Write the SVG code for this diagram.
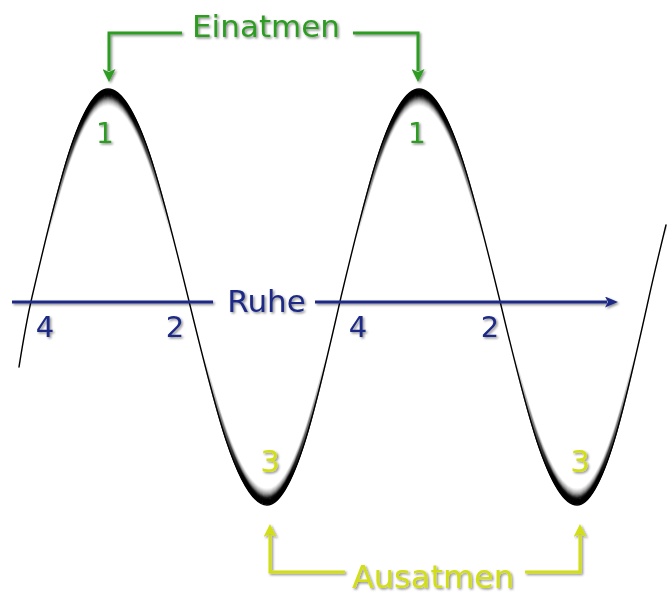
<svg xmlns="http://www.w3.org/2000/svg" xmlns:xlink="http://www.w3.org/1999/xlink" width="672" height="595" viewBox="0 0 672 595">
  <style>
    .lbl { font-family: "DejaVu Sans", Verdana, sans-serif; text-anchor: middle; }
    .green { fill: #2e9c23; }
    .blue { fill: #1f2b85; }
    .yellow { fill: #d2de16; }
    .conn { fill: none; stroke-width: 3; }
    .wave { fill: none; stroke-width: 1.7; stroke-linejoin: round; stroke-linecap: round; }
    .edge { fill: none; stroke: #000; stroke-width: 1.4; stroke-linejoin: round; stroke-linecap: round; }
  </style>
  <defs>
    <filter id="sh" x="-20%" y="-20%" width="140%" height="140%">
      <feDropShadow dx="1.5" dy="1.5" stdDeviation="1.1" flood-color="#000" flood-opacity="0.45"/>
    </filter>
    <linearGradient id="fadeGrad" gradientUnits="userSpaceOnUse" x1="0" y1="0" x2="0" y2="595">
      <stop offset="0" stop-color="#fff"/>
      <stop offset="0.2" stop-color="#fff"/>
      <stop offset="0.40" stop-color="#000"/>
      <stop offset="0.60" stop-color="#000"/>
      <stop offset="0.80" stop-color="#fff"/>
      <stop offset="1" stop-color="#fff"/>
    </linearGradient>
    <mask id="capMask" maskUnits="userSpaceOnUse" x="0" y="0" width="672" height="595">
      <rect x="0" y="0" width="672" height="595" fill="url(#fadeGrad)"/>
    </mask>
    <marker id="arrG" viewBox="0 0 13 13" refX="2" refY="6.5" markerWidth="13" markerHeight="13" markerUnits="userSpaceOnUse" orient="auto">
      <path d="M0,0 L13,6.5 L0,13 L3,6.5 z" fill="#2e9c23"/>
    </marker>
    <marker id="arrB" viewBox="0 0 13 11" refX="2" refY="5.5" markerWidth="13" markerHeight="11" markerUnits="userSpaceOnUse" orient="auto">
      <path d="M0,0 L13,5.5 L0,11 L3,5.5 z" fill="#1f2b85"/>
    </marker>
    <marker id="arrY" viewBox="0 0 13 13" refX="2" refY="6.5" markerWidth="13" markerHeight="13" markerUnits="userSpaceOnUse" orient="auto">
      <path d="M0,0 L13,6.5 L0,13 L3,6.5 z" fill="#d2de16"/>
    </marker>
    <path id="sine" d="M19,70 Q26,25.8 32,0 C56.8,-106.5 80.5,-208 108,-208 C137,-208 161.9,-106.5 188,0 C213.8,106.5 238.4,208 267,208 C293.8,208 316.9,106.5 341,0 C366.4,-106.5 390.8,-208 419,-208 C447.9,-208 472.9,-106.5 499,0 C524.4,106.5 548.8,208 577,208 C603.1,208 625.5,106.5 649,0 Q655,-27.2 666,-72"/>
  </defs>
  <rect width="672" height="595" fill="#ffffff"/>

  <g id="wave">
    <g mask="url(#capMask)">
      <use xlink:href="#sine" class="wave" stroke="#f2f2f2" transform="translate(0,297) scale(1,0.925)"/>
      <use xlink:href="#sine" class="wave" stroke="#e2e2e2" transform="translate(0,297) scale(1,0.93)"/>
      <use xlink:href="#sine" class="wave" stroke="#d0d0d0" transform="translate(0,297) scale(1,0.935)"/>
      <use xlink:href="#sine" class="wave" stroke="#bdbdbd" transform="translate(0,297) scale(1,0.94)"/>
      <use xlink:href="#sine" class="wave" stroke="#a6a6a6" transform="translate(0,297) scale(1,0.945)"/>
      <use xlink:href="#sine" class="wave" stroke="#8c8c8c" transform="translate(0,297) scale(1,0.95)"/>
      <use xlink:href="#sine" class="wave" stroke="#6e6e6e" transform="translate(0,297) scale(1,0.955)"/>
      <use xlink:href="#sine" class="wave" stroke="#4a4a4a" transform="translate(0,297) scale(1,0.96)"/>
      <use xlink:href="#sine" class="wave" stroke="#252525" transform="translate(0,297) scale(1,0.965)"/>
      <use xlink:href="#sine" class="wave" stroke="#111111" transform="translate(0,297) scale(1,0.97)"/>
      <use xlink:href="#sine" class="wave" stroke="#050505" transform="translate(0,297) scale(1,0.975)"/>
      <use xlink:href="#sine" class="wave" stroke="#000000" transform="translate(0,297) scale(1,0.98)"/>
      <use xlink:href="#sine" class="wave" stroke="#000000" transform="translate(0,297) scale(1,0.985)"/>
      <use xlink:href="#sine" class="wave" stroke="#000000" transform="translate(0,297) scale(1,0.99)"/>
      <use xlink:href="#sine" class="wave" stroke="#000000" transform="translate(0,297) scale(1,0.995)"/>
    </g>
    <use xlink:href="#sine" class="edge" transform="translate(0,297)"/>
  </g>

  <g id="connectors" filter="url(#sh)">
    <path class="conn" stroke="#2e9c23" d="M182,33 H109 V71" marker-end="url(#arrG)"/>
    <path class="conn" stroke="#2e9c23" d="M353,33 H418 V71" marker-end="url(#arrG)"/>
    <path class="conn" stroke="#1f2b85" d="M12,302 H213"/>
    <path class="conn" stroke="#1f2b85" d="M315,302 H607" marker-end="url(#arrB)"/>
    <path class="conn" stroke="#d2de16" d="M345,572 H270 V535" marker-end="url(#arrY)"/>
    <path class="conn" stroke="#d2de16" d="M525,572 H580 V535" marker-end="url(#arrY)"/>
  </g>

  <g id="einatmen" filter="url(#sh)">
    <text class="lbl green" x="266" y="37" font-size="31">Einatmen</text>
  </g>
  <g id="ruhe" filter="url(#sh)">
    <text class="lbl blue" x="266.5" y="312" font-size="31">Ruhe</text>
  </g>
  <g id="ausatmen" filter="url(#sh)">
    <text class="lbl yellow" x="433" y="588" font-size="32">Ausatmen</text>
  </g>

  <g id="point-labels" filter="url(#sh)">
    <text class="lbl green" x="105" y="143" font-size="28">1</text>
    <text class="lbl green" x="417" y="143" font-size="28">1</text>
    <text class="lbl blue" x="45" y="337" font-size="29">4</text>
    <text class="lbl blue" x="175" y="337" font-size="29">2</text>
    <text class="lbl blue" x="358" y="337" font-size="29">4</text>
    <text class="lbl blue" x="490" y="337" font-size="29">2</text>
    <text class="lbl yellow" x="270" y="472" font-size="31">3</text>
    <text class="lbl yellow" x="580" y="472" font-size="31">3</text>
  </g>
</svg>
